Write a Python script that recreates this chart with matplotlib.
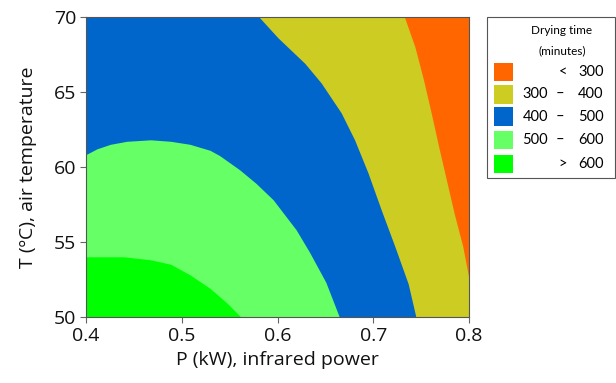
"""
plot.py - drying time contour map (infrared power vs. air temperature)
Contour lines read off the reference picture; regions are filled between them.
"""
import matplotlib; matplotlib.use("Agg")
import matplotlib.pyplot as plt
from matplotlib.patches import Rectangle

plt.rcParams.update({"font.family": ["Open Sans", "DejaVu Sans"], "font.size": 12})

P_MIN, P_MAX = 0.4, 0.8
T_MIN, T_MAX = 50, 70

# iso-lines of drying time (minutes): P in kW, T in C
p300 = [0.733, 0.744, 0.753, 0.761, 0.769, 0.777, 0.785, 0.794, 0.800]
t300 = [70.0, 68.0, 65.8, 63.6, 61.3, 59.1, 56.9, 54.7, 52.7]
p400 = [0.581, 0.601, 0.629, 0.646, 0.667, 0.681, 0.695, 0.709, 0.723, 0.737, 0.745]
t400 = [70.0, 68.6, 66.9, 65.6, 63.6, 61.8, 59.6, 57.1, 54.7, 52.2, 50.0]
p500 = [0.400, 0.412, 0.426, 0.443, 0.468, 0.489, 0.509, 0.530, 0.540, 0.561, 0.578,
        0.596, 0.620, 0.634, 0.651, 0.665]
t500 = [60.8, 61.2, 61.5, 61.7, 61.8, 61.7, 61.5, 61.1, 60.75, 59.8, 58.9,
        57.8, 55.8, 54.3, 52.3, 50.0]
p600 = [0.400, 0.440, 0.468, 0.489, 0.509, 0.530, 0.548, 0.562]
t600 = [54.0, 54.0, 53.8, 53.5, 52.8, 51.9, 50.9, 50.0]

levels = ["<  300", "300 \u2013 400", "400 \u2013 500", "500 \u2013 600", ">  600"]
colors = ["#FF6600", "#CCCC22", "#0066CC", "#66FF66", "#00FF00"]

fig = plt.figure(figsize=(6.16, 3.83), dpi=100)
ax = fig.add_axes([86/616, 1-317.3/383, 383/616, 300/383])
ax.set_facecolor(colors[0])

# each region: everything left of / below the iso-line, layered fast -> slow on top
for (px, ty), c in zip([(p300, t300), (p400, t400), (p500, t500), (p600, t600)], colors[1:]):
    xs, ys = list(px), list(ty)
    if px[-1] == P_MAX and ty[-1] > T_MIN:
        xs += [P_MAX]; ys += [T_MIN]
    xs += [P_MIN]; ys += [T_MIN]
    if ty[0] == T_MAX:
        xs += [P_MIN]; ys += [T_MAX]
    ax.fill(xs, ys, color=c, lw=0)

ax.set_xlim(P_MIN, P_MAX); ax.set_ylim(T_MIN, T_MAX)
ax.set_xticks([0.4, 0.5, 0.6, 0.7, 0.8]); ax.set_yticks([50, 55, 60, 65, 70])
ax.tick_params(direction="out", length=4, width=0.8, color="#666666", labelsize=14,
               labelcolor="#111111", pad=3)
for s in ax.spines.values():
    s.set_color("#555555"); s.set_linewidth(0.8)
ax.set_xlabel("P (kW), infrared power", fontsize=14, labelpad=4, color="#111111")
ax.set_ylabel("T (\u00baC), air temperature", fontsize=14, labelpad=12, color="#111111")

# legend box drawn in figure pixels
W, H = 616, 383
def fx(x): return x / W
def fy(y): return 1 - y / H
fig.patches.append(Rectangle((fx(487), fy(178)), (615-487)/W, (178-17)/H, transform=fig.transFigure,
                             fill=False, ec="#555555", lw=0.8))
lf = ["Lato", "DejaVu Sans"]
fig.text(fx(562), fy(31), "Drying time", ha="center", va="center", fontsize=8.5, family=lf)
fig.text(fx(562), fy(51), "(minutes)", ha="center", va="center", fontsize=8.5, family=lf)
rows = [72, 94.3, 116.7, 140, 164]
for lab, c, y in zip(levels, colors, rows):
    fig.patches.append(Rectangle((fx(494), fy(y+9.3)), 19/W, 18.6/H, transform=fig.transFigure,
                                 fc=c, ec="none"))
    parts = lab.split()
    if len(parts) == 3:
        fig.text(fx(548), fy(y), parts[0], ha="right", va="center", fontsize=10.5, family=lf)
        fig.text(fx(560), fy(y), parts[1], ha="center", va="center", fontsize=10.5, family=lf)
        fig.text(fx(578), fy(y), parts[2], ha="left", va="center", fontsize=10.5, family=lf)
    else:
        fig.text(fx(563), fy(y), parts[0], ha="center", va="center", fontsize=10.5, family=lf)
        fig.text(fx(578), fy(y), parts[1], ha="left", va="center", fontsize=10.5, family=lf)

fig.savefig("out.png", dpi=100)
